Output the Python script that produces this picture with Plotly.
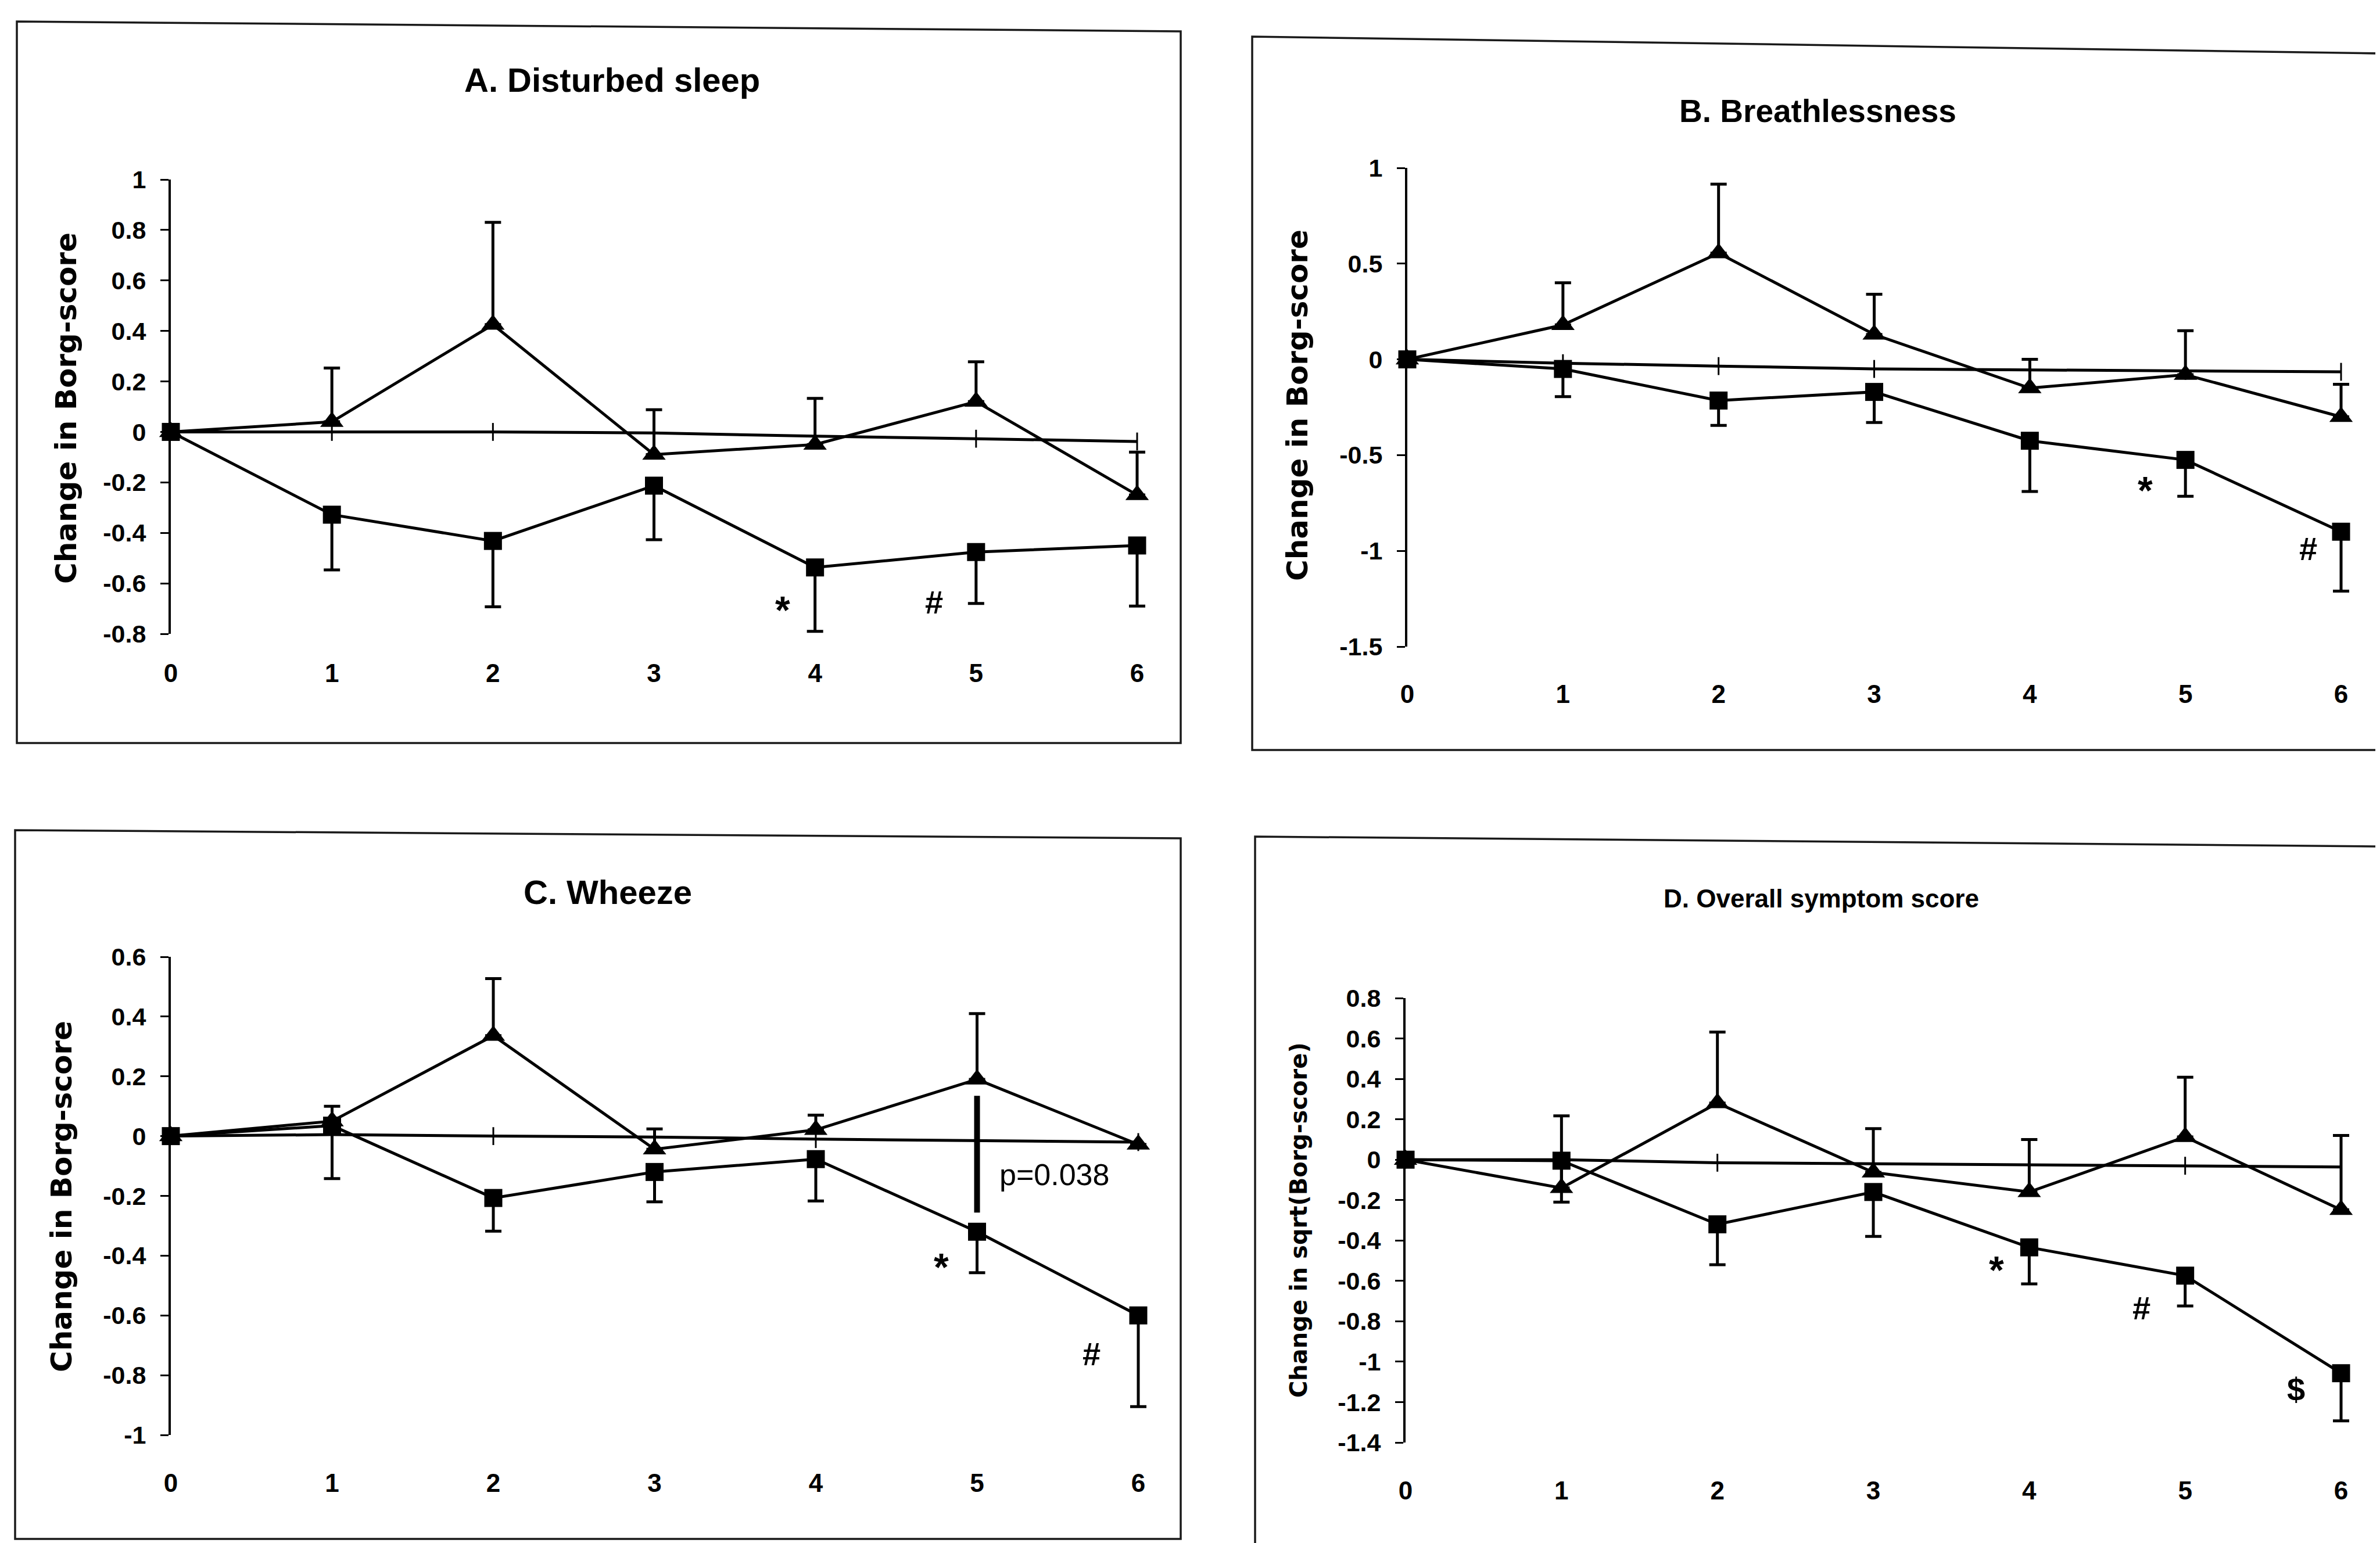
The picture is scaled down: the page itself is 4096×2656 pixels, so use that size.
import plotly.graph_objects as go

# ---------------- data ----------------
X = [0, 1, 2, 3, 4, 5, 6]
X_LABELS = ["0", "1", "2", "3", "4", "5", "6"]

# Panel A - Disturbed sleep
A_TRI = [0, 0.04, 0.425, -0.09, -0.05, 0.12, -0.25]
A_TRI_UP = [None, 0.253, 0.83, 0.088, 0.133, 0.278, -0.08]
A_SQ = [0, -0.328, -0.432, -0.213, -0.537, -0.476, -0.45]
A_SQ_LO = [None, -0.547, -0.693, -0.427, -0.79, -0.68, -0.69]
A_REF = [0, 0.0, 0.0, -0.004, -0.017, -0.027, -0.038]
A_YTICKS = ["1", "0.8", "0.6", "0.4", "0.2", "0", "-0.2", "-0.4", "-0.6", "-0.8"]

# Panel B - Breathlessness
B_TRI = [0, 0.18, 0.555, 0.13, -0.15, -0.08, -0.30]
B_TRI_UP = [None, 0.40, 0.915, 0.34, 0.0, 0.15, -0.13]
B_SQ = [0, -0.05, -0.215, -0.17, -0.425, -0.525, -0.90]
B_SQ_LO = [None, -0.195, -0.345, -0.33, -0.69, -0.715, -1.21]
B_REF = [0, -0.02, -0.035, -0.05, -0.055, -0.06, -0.065]
B_YTICKS = ["1", "0.5", "0", "-0.5", "-1", "-1.5"]

# Panel C - Wheeze
C_TRI = [0, 0.05, 0.336, -0.044, 0.021, 0.19, -0.028]
C_TRI_UP = [None, 0.10, 0.527, 0.024, 0.07, 0.41, None]
C_SQ = [0, 0.035, -0.207, -0.12, -0.077, -0.32, -0.60]
C_SQ_LO = [None, -0.142, -0.318, -0.22, -0.217, -0.457, -0.905]
C_REF = [0, 0.005, 0.0, -0.003, -0.01, -0.016, -0.02]
C_YTICKS = ["0.6", "0.4", "0.2", "0", "-0.2", "-0.4", "-0.6", "-0.8", "-1"]
C_PLINE_X = 5
C_PLINE_Y = [0.135, -0.256]

# Panel D - Overall symptom score
D_TRI = [0, -0.14, 0.28, -0.063, -0.16, 0.113, -0.248]
D_TRI_UP = [None, 0.217, 0.632, 0.154, 0.10, 0.408, 0.12]
D_SQ = [0, -0.005, -0.32, -0.16, -0.434, -0.574, -1.057]
D_SQ_LO = [None, -0.21, -0.52, -0.38, -0.615, -0.724, -1.293]
D_REF = [0, 0.0, -0.015, -0.02, -0.025, -0.03, -0.036]
D_YTICKS = ["0.8", "0.6", "0.4", "0.2", "0", "-0.2", "-0.4", "-0.6", "-0.8",
            "-1", "-1.2", "-1.4"]

TITLES = ["A. Disturbed sleep", "B. Breathlessness", "C. Wheeze", "D. Overall symptom score"]
YTITLES = ["Change in Borg-score", "Change in Borg-score", "Change in Borg-score",
           "Change in sqrt(Borg-score)"]

# significance marks: (text, x, y)
A_MARKS = [("*", 3.80, -0.687), ("#", 4.74, -0.675)]
B_MARKS = [("*", 4.74, -0.66), ("#", 5.79, -0.99)]
C_MARKS = [("*", 4.78, -0.423), ("#", 5.71, -0.729)]
C_PTEXT = ("p=0.038", 5.13, -0.13)
D_MARKS = [("*", 3.79, -0.524), ("#", 4.72, -0.733), ("$", 5.71, -1.137)]

# ---------------- layout geometry (window pixels) ----------------
WIN_W, WIN_H = 4096, 2656
OFF = 8                      # page body margin
W, H = WIN_W - OFF, WIN_H - OFF
FONT = "Liberation Sans, Arial, sans-serif"
YFONT = "DejaVu Sans, Verdana, sans-serif"


def fx(x):
    return (x - OFF) / W


def fy(y):
    return 1 - (y - OFF) / H


def up_err(vals, ups):
    return [None if u is None else max(u - v, 0) for v, u in zip(vals, ups)]


def lo_err(vals, los):
    return [None if l is None else max(v - l, 0) for v, l in zip(vals, los)]


panels = [
    dict(tri=A_TRI, tu=A_TRI_UP, sq=A_SQ, sl=A_SQ_LO, ref=A_REF, yt=A_YTICKS,
         x0=294, x6=1957, ytop=309, ybot=1091, yr=[-0.8, 1], xoff=68, marks=A_MARKS,
         title=(1053, 137, 58), ytitle=(114, 703, 50)),
    dict(tri=B_TRI, tu=B_TRI_UP, sq=B_SQ, sl=B_SQ_LO, ref=B_REF, yt=B_YTICKS,
         x0=2422, x6=4029, ytop=289, ybot=1113, yr=[-1.5, 1], xoff=82, marks=B_MARKS,
         title=(3128, 191, 55), ytitle=(2233, 698, 50)),
    dict(tri=C_TRI, tu=C_TRI_UP, sq=C_SQ, sl=C_SQ_LO, ref=C_REF, yt=C_YTICKS,
         x0=294, x6=1959, ytop=1647, ybot=2470, yr=[-1, 0.6], xoff=83, marks=C_MARKS,
         title=(1046, 1535, 58), ytitle=(106, 2060, 50)),
    dict(tri=D_TRI, tu=D_TRI_UP, sq=D_SQ, sl=D_SQ_LO, ref=D_REF, yt=D_YTICKS,
         x0=2419, x6=4029, ytop=1718, ybot=2483, yr=[-1.4, 0.8], xoff=83, marks=D_MARKS,
         title=(3134, 1546, 44), ytitle=(2235, 2100, 40)),
]

fig = go.Figure()
layout = dict(template="none", width=W, height=H,
              margin=dict(l=0, r=0, t=0, b=0, pad=0, autoexpand=False),
              paper_bgcolor="white", plot_bgcolor="rgba(0,0,0,0)",
              showlegend=False, font=dict(family=FONT, color="black"))
annotations = []
shapes = []

XMAX = 6.2
for i, p in enumerate(panels):
    n = "" if i == 0 else str(i + 1)
    xa, ya = "x" + n, "y" + n
    unit = (p["x6"] - p["x0"]) / 6.0
    xr_px = p["x6"] + (XMAX - 6) * unit
    layout["xaxis" + n] = dict(
        domain=[fx(p["x0"]), fx(xr_px)], range=[0, XMAX], anchor=ya,
        automargin=False,
        showline=False, showgrid=False, zeroline=False, ticks="",
        tickvals=X, ticktext=X_LABELS,
        tickfont=dict(family=FONT, size=44, color="black", weight="bold"),
        ticklabelstandoff=p["xoff"] - 30,
    )
    layout["yaxis" + n] = dict(
        domain=[fy(p["ybot"]), fy(p["ytop"])], range=p["yr"], anchor=xa,
        automargin=False,
        showline=True, linecolor="black", linewidth=4,
        showgrid=False, zeroline=False, ticks="outside", ticklen=14,
        tickwidth=3, tickcolor="black",
        tickvals=[float(t) for t in p["yt"]], ticktext=p["yt"],
        tickfont=dict(family=FONT, size=43, color="black", weight="bold"),
        ticklabelstandoff=16,
    )
    # reference (flat) series
    fig.add_trace(go.Scatter(
        x=X, y=p["ref"], xaxis=xa, yaxis=ya, mode="lines+markers",
        line=dict(color="black", width=5),
        marker=dict(symbol="line-ns", size=22, color="black",
                    line=dict(width=3, color="black")),
        cliponaxis=False, hoverinfo="skip"))
    # triangle series with upward error bars
    fig.add_trace(go.Scatter(
        x=X, y=p["tri"], xaxis=xa, yaxis=ya, mode="lines+markers",
        line=dict(color="black", width=5),
        marker=dict(symbol="triangle-up", size=35, color="black",
                    line=dict(width=0)),
        error_y=dict(type="data", symmetric=False, array=up_err(p["tri"], p["tu"]),
                     arrayminus=[0] * 7, color="black", thickness=5, width=14),
        cliponaxis=False, hoverinfo="skip"))
    # square series with downward error bars
    fig.add_trace(go.Scatter(
        x=X, y=p["sq"], xaxis=xa, yaxis=ya, mode="lines+markers",
        line=dict(color="black", width=5),
        marker=dict(symbol="square", size=31, color="black", line=dict(width=0)),
        error_y=dict(type="data", symmetric=False, array=[0] * 7,
                     arrayminus=lo_err(p["sq"], p["sl"]), color="black",
                     thickness=5, width=14),
        cliponaxis=False, hoverinfo="skip"))

    tx, ty, ts = p["title"]
    annotations.append(dict(text=TITLES[i], x=fx(tx), y=fy(ty), xref="paper", yref="paper",
                            showarrow=False, xanchor="center", yanchor="middle",
                            font=dict(family=FONT, size=ts, color="black", weight="bold")))
    yx, yy, ys = p["ytitle"]
    annotations.append(dict(text=YTITLES[i], x=fx(yx), y=fy(yy), xref="paper", yref="paper",
                            showarrow=False, textangle=-90, xanchor="center",
                            yanchor="middle",
                            font=dict(family=YFONT, size=ys, color="black", weight="bold")))
    for (t, mx, my) in p["marks"]:
        annotations.append(dict(text=t, x=mx, y=my, xref=xa, yref=ya, showarrow=False,
                                xanchor="center", yanchor="middle",
                                yshift=-8 if t == "*" else 0,
                                font=dict(family=FONT, size=66 if t == "*" else 56,
                                          color="black", weight="bold")))

# p-value annotation on panel C
annotations.append(dict(text=C_PTEXT[0], x=C_PTEXT[1], y=C_PTEXT[2], xref="x3", yref="y3",
                        showarrow=False, xanchor="left", yanchor="middle",
                        font=dict(family=FONT, size=52, color="black")))
shapes.append(dict(type="line", xref="x3", yref="y3", x0=C_PLINE_X, x1=C_PLINE_X,
                   y0=C_PLINE_Y[0], y1=C_PLINE_Y[1],
                   line=dict(color="black", width=10)))


# frames around panels (paper coords)
def path(points, close=False):
    s = ""
    for k, (x, y) in enumerate(points):
        s += ("M" if k == 0 else "L") + f"{fx(x):.5f},{fy(y):.5f} "
    return s + ("Z" if close else "")


FRAME = dict(color="#1a1a1a", width=3.5)
shapes += [
    dict(type="path", xref="paper", yref="paper", line=FRAME,
         path=path([(29, 37), (2032, 54), (2032, 1279), (29, 1279)], close=True)),
    dict(type="path", xref="paper", yref="paper", line=FRAME,
         path=path([(4096, 92), (2155, 63), (2155, 1291), (4096, 1291)])),
    dict(type="path", xref="paper", yref="paper", line=FRAME,
         path=path([(26, 1429), (2032, 1443), (2032, 2649), (26, 2649)], close=True)),
    dict(type="path", xref="paper", yref="paper", line=FRAME,
         path=path([(4096, 1457), (2160, 1440), (2160, 2656)])),
]

layout["annotations"] = annotations
layout["shapes"] = shapes
fig.update_layout(**layout)
fig.write_html("out.html")
